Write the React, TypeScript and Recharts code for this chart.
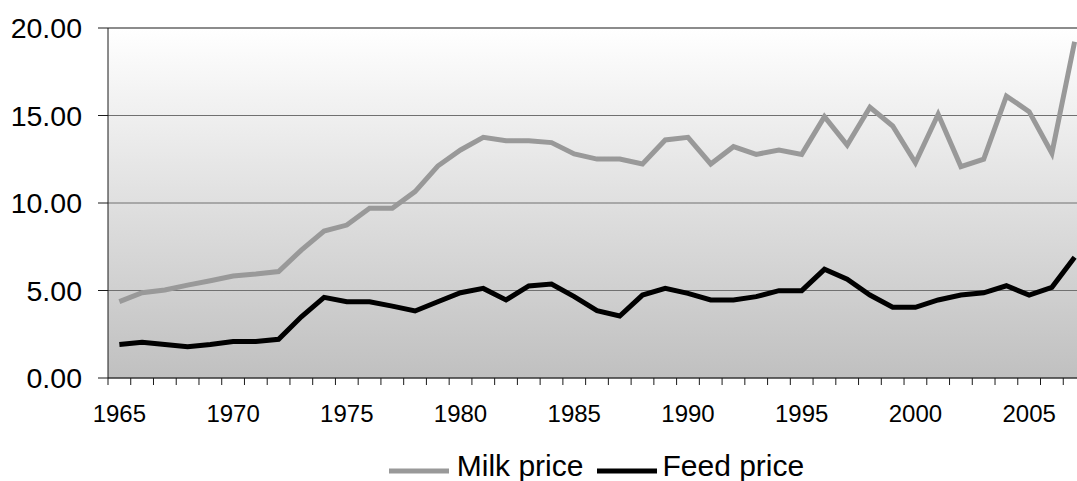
import { LineChart, Line, XAxis, YAxis, CartesianGrid, Legend, ReferenceLine } from "recharts";

const years = [
  1965, 1966, 1967, 1968, 1969, 1970, 1971, 1972, 1973, 1974, 1975, 1976, 1977, 1978, 1979,
  1980, 1981, 1982, 1983, 1984, 1985, 1986, 1987, 1988, 1989, 1990, 1991, 1992, 1993, 1994,
  1995, 1996, 1997, 1998, 1999, 2000, 2001, 2002, 2003, 2004, 2005, 2006, 2007,
];

const milkPrice = [
  4.36, 4.87, 5.03, 5.31, 5.56, 5.83, 5.94, 6.08, 7.31, 8.4, 8.74, 9.7, 9.7, 10.65, 12.11,
  13.03, 13.75, 13.56, 13.56, 13.45, 12.8, 12.51, 12.51, 12.23, 13.6, 13.75, 12.23, 13.22, 12.78, 13.03,
  12.78, 14.93, 13.31, 15.47, 14.4, 12.3, 15.07, 12.08, 12.5, 16.11, 15.22, 12.84, 19.22,
];

const feedPrice = [
  1.92, 2.04, 1.92, 1.79, 1.92, 2.08, 2.08, 2.21, 3.5, 4.61, 4.36, 4.36, 4.11, 3.83, 4.36,
  4.87, 5.12, 4.46, 5.26, 5.37, 4.65, 3.85, 3.54, 4.74, 5.12, 4.84, 4.46, 4.46, 4.65, 4.99,
  4.99, 6.21, 5.64, 4.74, 4.04, 4.04, 4.46, 4.74, 4.87, 5.27, 4.74, 5.18, 6.9,
];

const yTicks = [0, 5, 10, 15, 20];
const labelYears = [1965, 1970, 1975, 1980, 1985, 1990, 1995, 2000, 2005];
// tick marks sit between categories, like Excel
const boundaryTicks = [...years.map((y) => y - 0.5), years[years.length - 1] + 0.5];

const data = years.map((year, i) => ({
  year,
  milk: milkPrice[i],
  feed: feedPrice[i],
}));

const FONT = "Arial, 'Liberation Sans', sans-serif";
const MILK = "#999999";
const FEED = "#000000";
const AXIS = "#1a1a1a";

function LegendContent() {
  const items = [
    { label: "Milk price", color: MILK },
    { label: "Feed price", color: FEED },
  ];
  return (
    <div
      style={{
        display: "flex",
        justifyContent: "center",
        alignItems: "flex-start",
        height: 36,
        paddingTop: 5,
        boxSizing: "border-box",
        fontFamily: FONT,
        fontSize: 30,
        color: "#000",
      }}
    >
      {items.map((it, i) => (
        <div
          key={it.label}
          style={{ display: "flex", alignItems: "flex-start", marginLeft: i === 0 ? 0 : 14 }}
        >
          <svg width={60} height={31} style={{ display: "block" }}>
            <line x1={0} x2={60} y1={21} y2={21} stroke={it.color} strokeWidth={5} />
          </svg>
          <span style={{ marginLeft: i === 0 ? 8 : 5, lineHeight: "31px", whiteSpace: "nowrap" }}>
            {it.label}
          </span>
        </div>
      ))}
    </div>
  );
}

export default function App() {
  return (
    <div
      style={{
        position: "absolute",
        left: 0,
        top: 0,
        width: 1077,
        height: 481,
        overflow: "hidden",
        background: "#fff",
      }}
    >
      <LineChart
        width={1090}
        height={481}
        data={data}
        margin={{ top: 28, right: 4, left: 0, bottom: 0 }}
      >
        <defs>
          <linearGradient id="plotBg" x1="0" y1="0" x2="0" y2="1">
            <stop offset="0%" stopColor="#ffffff" />
            <stop offset="100%" stopColor="#c0c0c0" />
          </linearGradient>
        </defs>
        <CartesianGrid
          xAxisId="b"
          vertical={false}
          stroke="#707070"
          fill="url(#plotBg)"
          fillOpacity={1}
        />
        <ReferenceLine xAxisId="b" y={20} stroke="#8c8c8c" strokeWidth={2} />
        <XAxis
          xAxisId="a"
          dataKey="year"
          type="number"
          domain={[1964.5, 2007.5]}
          ticks={boundaryTicks}
          interval={0}
          tickFormatter={() => ""}
          tickSize={7}
          height={1}
          stroke={AXIS}
          allowDataOverflow
        />
        <XAxis
          xAxisId="b"
          dataKey="year"
          type="number"
          domain={[1964.5, 2007.5]}
          ticks={labelYears}
          interval={0}
          tickLine={false}
          axisLine={false}
          tickSize={6}
          tickMargin={20}
          height={66}
          fontSize={24}
          tick={{ fill: "#000", fontSize: 24, fontFamily: FONT }}
          allowDataOverflow
        />
        <YAxis
          domain={[0, 20]}
          ticks={yTicks}
          width={108}
          tickSize={10}
          tickMargin={16}
          stroke={AXIS}
          fontSize={28.5}
          tickFormatter={(v: number) => v.toFixed(2)}
          tick={{ fill: "#000", fontSize: 28.5, fontFamily: FONT }}
        />
        <Legend
          verticalAlign="bottom"
          height={36}
          content={<LegendContent />}
          wrapperStyle={{ left: 108, width: 977 }}
        />
        <Line
          xAxisId="b"
          type="linear"
          dataKey="milk"
          name="Milk price"
          stroke={MILK}
          strokeWidth={5}
          dot={false}
          isAnimationActive={false}
        />
        <Line
          xAxisId="b"
          type="linear"
          dataKey="feed"
          name="Feed price"
          stroke={FEED}
          strokeWidth={5}
          dot={false}
          isAnimationActive={false}
        />
      </LineChart>
    </div>
  );
}
